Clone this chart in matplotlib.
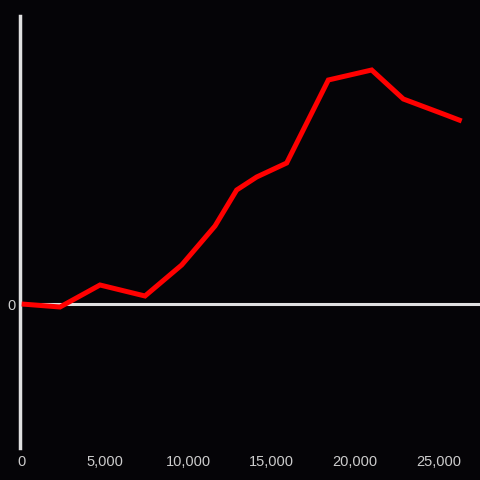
import numpy as np
import matplotlib.pyplot as plt

# data
x_vals = [0, 2300, 4700, 7400, 9600, 11600, 12900, 14100, 15900, 18400, 21000, 22900, 25300, 26400]
y_vals = [0, -3, 19, 8, 39, 78, 114, 127, 141, 224, 234, 205, 190, 183]
x_ticks = [0, 5000, 10000, 15000, 20000, 25000]

bg = '#050407'
fig = plt.figure(figsize=(4.8, 4.8), dpi=100, facecolor=bg)
ax = fig.add_axes([20 / 480, 32 / 480, 460 / 480, 432 / 480], facecolor=bg)

ax.plot(x_vals, y_vals, color='#ff0000', linewidth=3.6, solid_capstyle='butt',
        solid_joinstyle='miter', zorder=3)
ax.axhline(0, color='#e0e0e0', linewidth=2.2, zorder=2)

ax.set_xlim(-100, 27500)
ax.set_ylim(-144, 288)

for s in ['top', 'right', 'bottom']:
    ax.spines[s].set_visible(False)
ax.spines['left'].set_color('#e0e0e0')
ax.spines['left'].set_linewidth(2.5)

ax.set_xticks(x_ticks)
ax.set_xticklabels([f'{t:,}' for t in x_ticks])
ax.set_yticks([0])
ax.set_yticklabels(['0'])
ax.tick_params(length=0, colors='#cccccc', labelsize=10.5)
ax.tick_params(axis='x', pad=5)
ax.tick_params(axis='y', pad=3)
for lbl in ax.get_xticklabels() + ax.get_yticklabels():
    lbl.set_fontfamily('Liberation Sans')

fig.savefig('out.png', dpi=100, facecolor=bg)
